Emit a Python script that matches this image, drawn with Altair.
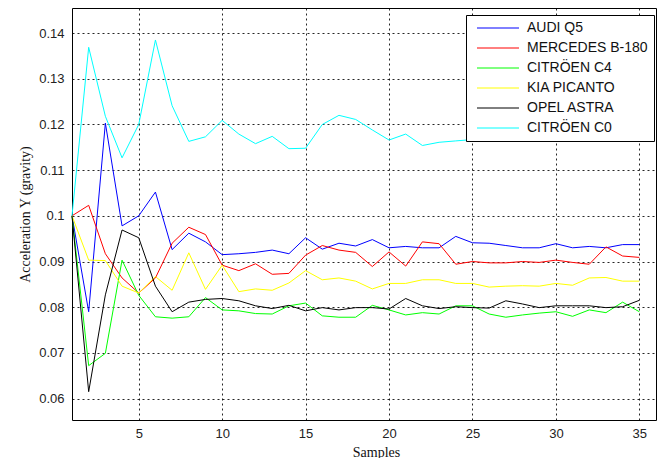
import altair as alt
import pandas as pd

samples = list(range(1, 36))
series_names = ["AUDI Q5", "MERCEDES B-180", "CITRÖEN C4", "KIA PICANTO", "OPEL ASTRA", "CITRÖEN C0"]
series_colors = ["#0000ff", "#ff0000", "#00ff00", "#ffff00", "#000000", "#00ffff"]

audi_q5 = [0.1, 0.0790, 0.1203, 0.0978, 0.1000, 0.1052, 0.0926, 0.0962, 0.0943, 0.0915,
           0.0917, 0.0920, 0.0925, 0.0917, 0.0952, 0.0927, 0.0940, 0.0934, 0.0948, 0.0930,
           0.0933, 0.0930, 0.0930, 0.0955, 0.0941, 0.0940, 0.0935, 0.0930, 0.0930, 0.0939,
           0.0930, 0.0933, 0.0930, 0.0937, 0.0937]
mercedes_b180 = [0.1, 0.1023, 0.0917, 0.0864, 0.0831, 0.0864, 0.0940, 0.0975, 0.0959, 0.0892,
                 0.0880, 0.0895, 0.0872, 0.0874, 0.0914, 0.0935, 0.0925, 0.0920, 0.0889, 0.0921,
                 0.0890, 0.0943, 0.0939, 0.0894, 0.0900, 0.0897, 0.0897, 0.0900, 0.0898, 0.0903,
                 0.0898, 0.0894, 0.0932, 0.0912, 0.0909]
citroen_c4 = [0.1, 0.0672, 0.0699, 0.0903, 0.0826, 0.0779, 0.0776, 0.0779, 0.0821, 0.0794,
              0.0792, 0.0786, 0.0785, 0.0803, 0.0809, 0.0781, 0.0778, 0.0778, 0.0804, 0.0794,
              0.0783, 0.0788, 0.0785, 0.0803, 0.0803, 0.0785, 0.0778, 0.0783, 0.0787, 0.0790,
              0.0780, 0.0794, 0.0788, 0.0811, 0.0790]
kia_picanto = [0.1, 0.0903, 0.0902, 0.0846, 0.0831, 0.0867, 0.0837, 0.0919, 0.0839, 0.0892,
               0.0834, 0.0840, 0.0837, 0.0853, 0.0880, 0.0860, 0.0864, 0.0857, 0.0840, 0.0852,
               0.0852, 0.0860, 0.0860, 0.0852, 0.0852, 0.0844, 0.0846, 0.0847, 0.0846, 0.0852,
               0.0848, 0.0864, 0.0865, 0.0857, 0.0857]
opel_astra = [0.1, 0.0615, 0.0827, 0.0969, 0.0952, 0.0846, 0.0790, 0.0811, 0.0817, 0.0819,
              0.0814, 0.0803, 0.0797, 0.0804, 0.0792, 0.0799, 0.0794, 0.0799, 0.0799, 0.0796,
              0.0819, 0.0803, 0.0797, 0.0801, 0.0799, 0.0798, 0.0814, 0.0807, 0.0799, 0.0803,
              0.0803, 0.0803, 0.0799, 0.0801, 0.0815]
citroen_c0 = [0.1, 0.1369, 0.1218, 0.1127, 0.1200, 0.1385, 0.1241, 0.1163, 0.1173, 0.1209,
              0.1179, 0.1158, 0.1174, 0.1147, 0.1148, 0.1200, 0.1220, 0.1211, 0.1188, 0.1166,
              0.1179, 0.1154, 0.1161, 0.1164, 0.1167, 0.1172, 0.1168, 0.1175, 0.1166, 0.1170,
              0.1178, 0.1169, 0.1173, 0.1167, 0.1171]

x_ticks = [5, 10, 15, 20, 25, 30, 35]
y_ticks = [0.06, 0.07, 0.08, 0.09, 0.1, 0.11, 0.12, 0.13, 0.14]

all_series = [audi_q5, mercedes_b180, citroen_c4, kia_picanto, opel_astra, citroen_c0]
rows = []
for k, (name, vals) in enumerate(zip(series_names, all_series)):
    for s, v in zip(samples, vals):
        rows.append({"Samples": s, "value": v, "series": name})
df = pd.DataFrame(rows)

common = dict(grid=True, gridColor="#000000", gridOpacity=0.85, gridDash=[2, 3], gridWidth=1,
              domain=False, ticks=True, tickSize=0,
              labelFont="Liberation Sans", labelFontSize=13, labelColor="#222",
              titleFont="Liberation Serif", titleFontSize=14, titleFontWeight="normal",
              titleColor="#111")

chart = alt.Chart(df).mark_line(strokeWidth=1).encode(
    x=alt.X("Samples:Q",
            scale=alt.Scale(domain=[1, 36], nice=False, zero=False),
            axis=alt.Axis(values=x_ticks, title="Samples", titleX=304, titleY=32,
                          labelPadding=7,
                          titleBaseline="middle", titleAlign="center", **common)),
    y=alt.Y("value:Q",
            scale=alt.Scale(domain=[0.0553, 0.1455], nice=False, zero=False),
            axis=alt.Axis(values=y_ticks, format=".2~f", title="Acceleration Y (gravity)",
                          titleX=-47, titleY=206, titleAngle=-90, labelPadding=8,
                          titleBaseline="middle", titleAlign="center", **common)),
    color=alt.Color("series:N",
                    scale=alt.Scale(domain=series_names, range=series_colors),
                    legend=alt.Legend(title=None, orient="none", legendX=394, legendY=7,
                                      padding=6, fillColor="white", strokeColor="black",
                                      cornerRadius=0, symbolType="M-0.4,0H8", symbolSize=100,
                                      symbolStrokeWidth=1, labelOffset=41, labelFontSize=14,
                                      labelFont="Liberation Sans", labelColor="#111",
                                      rowPadding=6, zindex=1)),
).properties(
    width=584, height=412,
    autosize=alt.AutoSizeParams(type="none"),
    padding={"left": 64, "top": 0, "right": 7, "bottom": 38},
    background="white",
).configure_view(
    stroke="#000", strokeWidth=1
).configure_axis(
    grid=True, gridColor="#000000", gridDash=[2, 3]
)

chart.save("out.html", embed_options={"renderer": "svg", "actions": False})
